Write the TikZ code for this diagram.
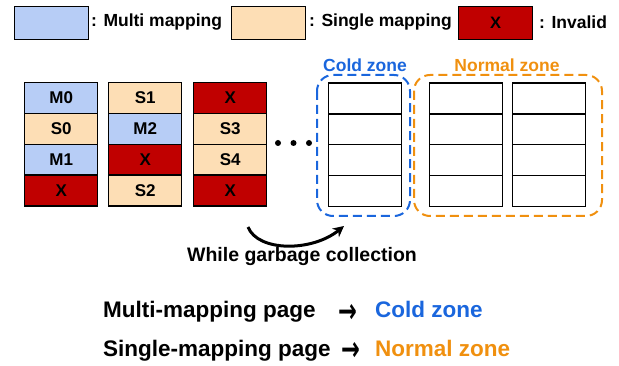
\documentclass[tikz,border=0pt]{standalone}
\usepackage{fontspec}
\usepackage{graphicx}
\setmainfont{Liberation Sans}
\newfontfamily\symfont{DejaVu Sans}
\usetikzlibrary{arrows.meta}
\definecolor{mfill}{HTML}{B7CDF6}
\definecolor{sfill}{HTML}{FDDEB5}
\definecolor{xfill}{HTML}{C00000}
\definecolor{cblue}{HTML}{1A66DD}
\definecolor{corange}{HTML}{F0900F}
\tikzset{
  cellbox/.style={draw=black, line width=1.4pt, minimum width=73pt, minimum height=30.8pt, inner sep=0pt, anchor=north west, font=\fontsize{17}{19}\selectfont\bfseries},
  mcell/.style={cellbox, fill=mfill},
  scell/.style={cellbox, fill=sfill},
  xcell/.style={cellbox, fill=xfill},
  ecell/.style={cellbox, fill=white},
  legbox/.style={draw=black, line width=1.4pt, minimum width=74pt, minimum height=33pt, inner sep=0pt, anchor=north west, font=\fontsize{16.5}{18}\selectfont\bfseries},
  legtext/.style={anchor=west, inner sep=0pt, font=\fontsize{17.5}{20}\selectfont\bfseries},
  zone/.style={dashed, dash pattern=on 9pt off 5pt, line width=2pt, rounded corners=16pt},
  zonelabel/.style={inner sep=0pt, font=\fontsize{17.5}{20}\selectfont\bfseries},
  bigtext/.style={anchor=base west, inner sep=0pt, font=\fontsize{22.5}{26}\selectfont\bfseries},
  arrowtext/.style={anchor=center, inner sep=1pt, font=\fontsize{22.5}{26}\selectfont\symfont\bfseries, yscale=-1.5},
  dot/.style={circle, fill=black, minimum size=6pt, inner sep=0pt},
}
\begin{document}
\begin{tikzpicture}[x=1pt,y=-1pt]
\useasboundingbox (0,0) rectangle (619,366);
% legend
\node[legbox, fill=mfill] (lm) at (14,6) {};
\node[legtext] (lmt) at (91,22.5) {: Multi mapping};
\node[legbox, fill=sfill] (ls) at (231,6) {};
\node[legtext] (lst) at (309,22.5) {: Single mapping};
\node[legbox, fill=xfill] (lx) at (458,6) {X};
\node[legtext] (lxt) at (539,22.5) {: Invalid};
% block 1
\node[mcell] (a1) at (24,82) {M0};
\node[scell] (a2) at (24,112.8) {S0};
\node[mcell] (a3) at (24,143.6) {M1};
\node[xcell] (a4) at (24,174.4) {X};
% block 2
\node[scell] (b1) at (108,82) {S1};
\node[mcell] (b2) at (108,112.8) {M2};
\node[xcell] (b3) at (108,143.6) {X};
\node[scell] (b4) at (108,174.4) {S2};
% block 3
\node[xcell] (c1) at (193,82) {X};
\node[scell] (c2) at (193,112.8) {S3};
\node[scell] (c3) at (193,143.6) {S4};
\node[xcell] (c4) at (193,174.4) {X};
% dots
\node[dot] (d1) at (278,143) {};
\node[dot] (d2) at (293.5,143) {};
\node[dot] (d3) at (309,143) {};
% cold zone block
\node[ecell] (e1) at (328,82.5) {};
\node[ecell] (e2) at (328,113.3) {};
\node[ecell] (e3) at (328,144.1) {};
\node[ecell] (e4) at (328,174.9) {};
% normal zone blocks
\node[ecell] (f1) at (428.5,82.5) {};
\node[ecell] (f2) at (428.5,113.3) {};
\node[ecell] (f3) at (428.5,144.1) {};
\node[ecell] (f4) at (428.5,174.9) {};
\node[ecell] (g1) at (512,82.5) {};
\node[ecell] (g2) at (512,113.3) {};
\node[ecell] (g3) at (512,144.1) {};
\node[ecell] (g4) at (512,174.9) {};
% zones
\draw[zone, cblue] (317,75) rectangle (410,216);
\draw[zone, corange] (414,75) rectangle (602,216);
\node[zonelabel, text=cblue] (cz) at (365,65) {Cold zone};
\node[zonelabel, text=corange] (nz) at (507,65) {Normal zone};
% GC arrow
\coordinate (gs) at (248,227);
\coordinate (ge) at (344,226);
\draw[line width=3pt, -{Stealth[length=11pt,width=11pt]}] (gs) .. controls (258,252) and (312,252) .. (ge);
\node[inner sep=0pt, font=\fontsize{19.5}{22}\selectfont\bfseries] (gc) at (302,257) {While garbage collection};
% bottom lines
\node[bigtext] (l1) at (103,318) {Multi-mapping page};
\node[arrowtext] (a1r) at (348,311) {→};
\node[bigtext, text=cblue] (l1c) at (375,318) {Cold zone};
\node[bigtext] (l2) at (103,356) {Single-mapping page};
\node[arrowtext] (a2r) at (351,349) {→};
\node[bigtext, text=corange] (l2c) at (375,356) {Normal zone};
\end{tikzpicture}
\end{document}
